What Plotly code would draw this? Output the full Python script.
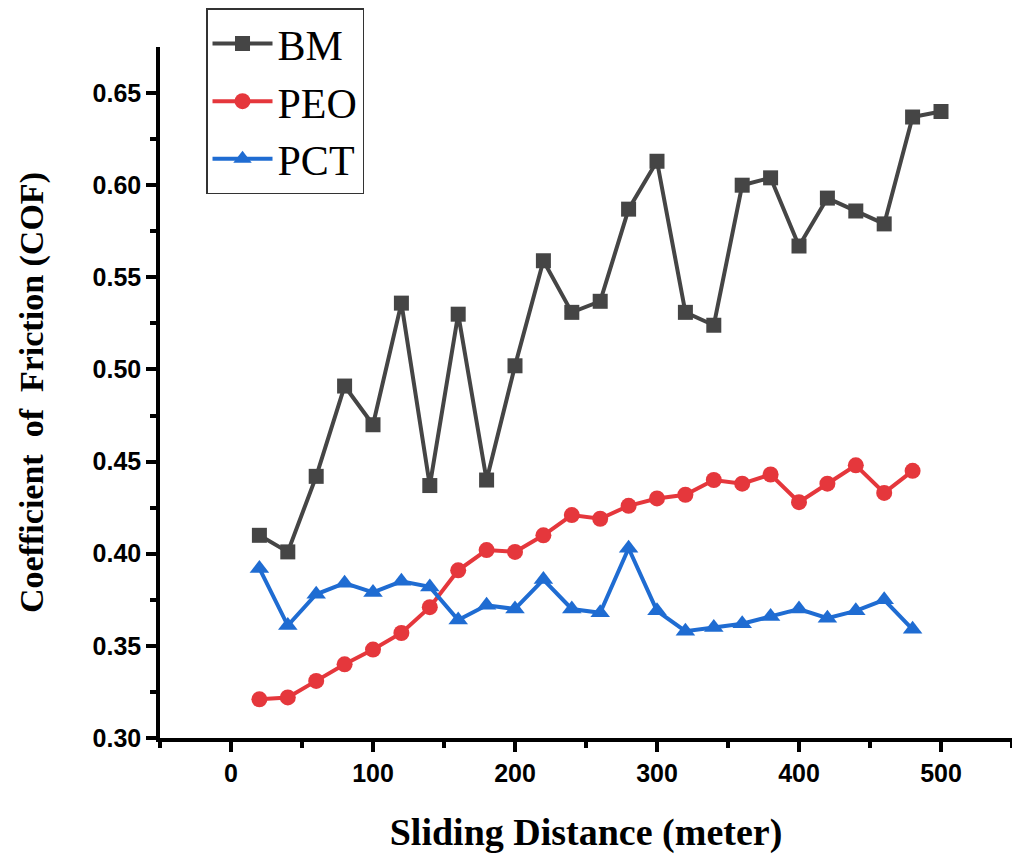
import plotly.graph_objects as go

x_bm = [20, 40, 60, 80, 100, 120, 140, 160, 180, 200, 220, 240, 260, 280, 300,
        320, 340, 360, 380, 400, 420, 440, 460, 480, 500]
bm = [0.410, 0.401, 0.442, 0.491, 0.470, 0.536, 0.437, 0.530, 0.440, 0.502,
      0.559, 0.531, 0.537, 0.587, 0.613, 0.531, 0.524, 0.600, 0.604, 0.567,
      0.593, 0.586, 0.579, 0.637, 0.640]

x_other = [20, 40, 60, 80, 100, 120, 140, 160, 180, 200, 220, 240, 260, 280,
           300, 320, 340, 360, 380, 400, 420, 440, 460, 480]
peo = [0.321, 0.322, 0.331, 0.340, 0.348, 0.357, 0.371, 0.391, 0.402, 0.401,
       0.410, 0.421, 0.419, 0.426, 0.430, 0.432, 0.440, 0.438, 0.443, 0.428,
       0.438, 0.448, 0.433, 0.445]
pct = [0.392, 0.361, 0.378, 0.384, 0.379, 0.385, 0.382, 0.364, 0.372, 0.370,
       0.386, 0.370, 0.368, 0.403, 0.369, 0.358, 0.360, 0.362, 0.366, 0.370,
       0.365, 0.369, 0.375, 0.359]

x_ticks = [0, 100, 200, 300, 400, 500]
y_ticks = [0.30, 0.35, 0.40, 0.45, 0.50, 0.55, 0.60, 0.65]

c_bm = "#454545"
c_peo = "#E5373C"
c_pct = "#1F6CD2"

fig = go.Figure()
fig.add_trace(go.Scatter(x=x_bm, y=bm, name="BM", mode="lines+markers",
                         line=dict(color=c_bm, width=4),
                         marker=dict(symbol="square", size=15, color=c_bm)))
fig.add_trace(go.Scatter(x=x_other, y=peo, name="PEO", mode="lines+markers",
                         line=dict(color=c_peo, width=4),
                         marker=dict(symbol="circle", size=16, color=c_peo)))
fig.add_trace(go.Scatter(x=x_other, y=pct, name="PCT", mode="lines+markers",
                         line=dict(color=c_pct, width=4),
                         marker=dict(symbol="triangle-up", size=17, color=c_pct)))

tick_font = dict(family="Liberation Sans, Arial, sans-serif",
                 size=25, color="black", weight="bold")
serif = "Liberation Serif, Times New Roman, serif"

fig.update_layout(
    width=1012, height=859,
    margin=dict(l=160, r=0, t=47, b=121),
    paper_bgcolor="white", plot_bgcolor="white",
    showlegend=True,
    legend=dict(x=0.054, y=1.056, xanchor="left", yanchor="top",
                bordercolor="#333333", borderwidth=1.5, bgcolor="white",
                font=dict(family=serif, size=42, color="black"),
                tracegroupgap=0, itemwidth=60),
    xaxis=dict(range=[-50, 550], tickvals=x_ticks, ticktext=[str(v) for v in x_ticks],
               showgrid=False, zeroline=False,
               showline=True, linecolor="black", linewidth=3.5,
               ticks="outside", ticklen=10, tickwidth=3.5, tickcolor="black",
               minor=dict(tickvals=[-50, 50, 150, 250, 350, 450, 550], ticks="outside",
                          ticklen=6, tickwidth=3.5, tickcolor="black", showgrid=False),
               tickfont=tick_font,
               title=dict(text="Sliding Distance (meter)", standoff=34,
                          font=dict(family=serif, size=38, color="black", weight="bold"))),
    yaxis=dict(range=[0.30, 0.675], tickvals=y_ticks, ticktext=["%.2f" % v for v in y_ticks],
               showgrid=False, zeroline=False,
               showline=True, linecolor="black", linewidth=3.5,
               ticks="outside", ticklen=10, tickwidth=3.5, tickcolor="black",
               minor=dict(tickvals=[0.325, 0.375, 0.425, 0.475, 0.525, 0.575, 0.625],
                          ticks="outside", ticklen=6, tickwidth=3.5, tickcolor="black",
                          showgrid=False),
               tickfont=tick_font,
               title=dict(text="Coefficient  of  Friction (COF)", standoff=40,
                          font=dict(family=serif, size=34, color="black", weight="bold"))),
)

fig.write_html("out.html")
